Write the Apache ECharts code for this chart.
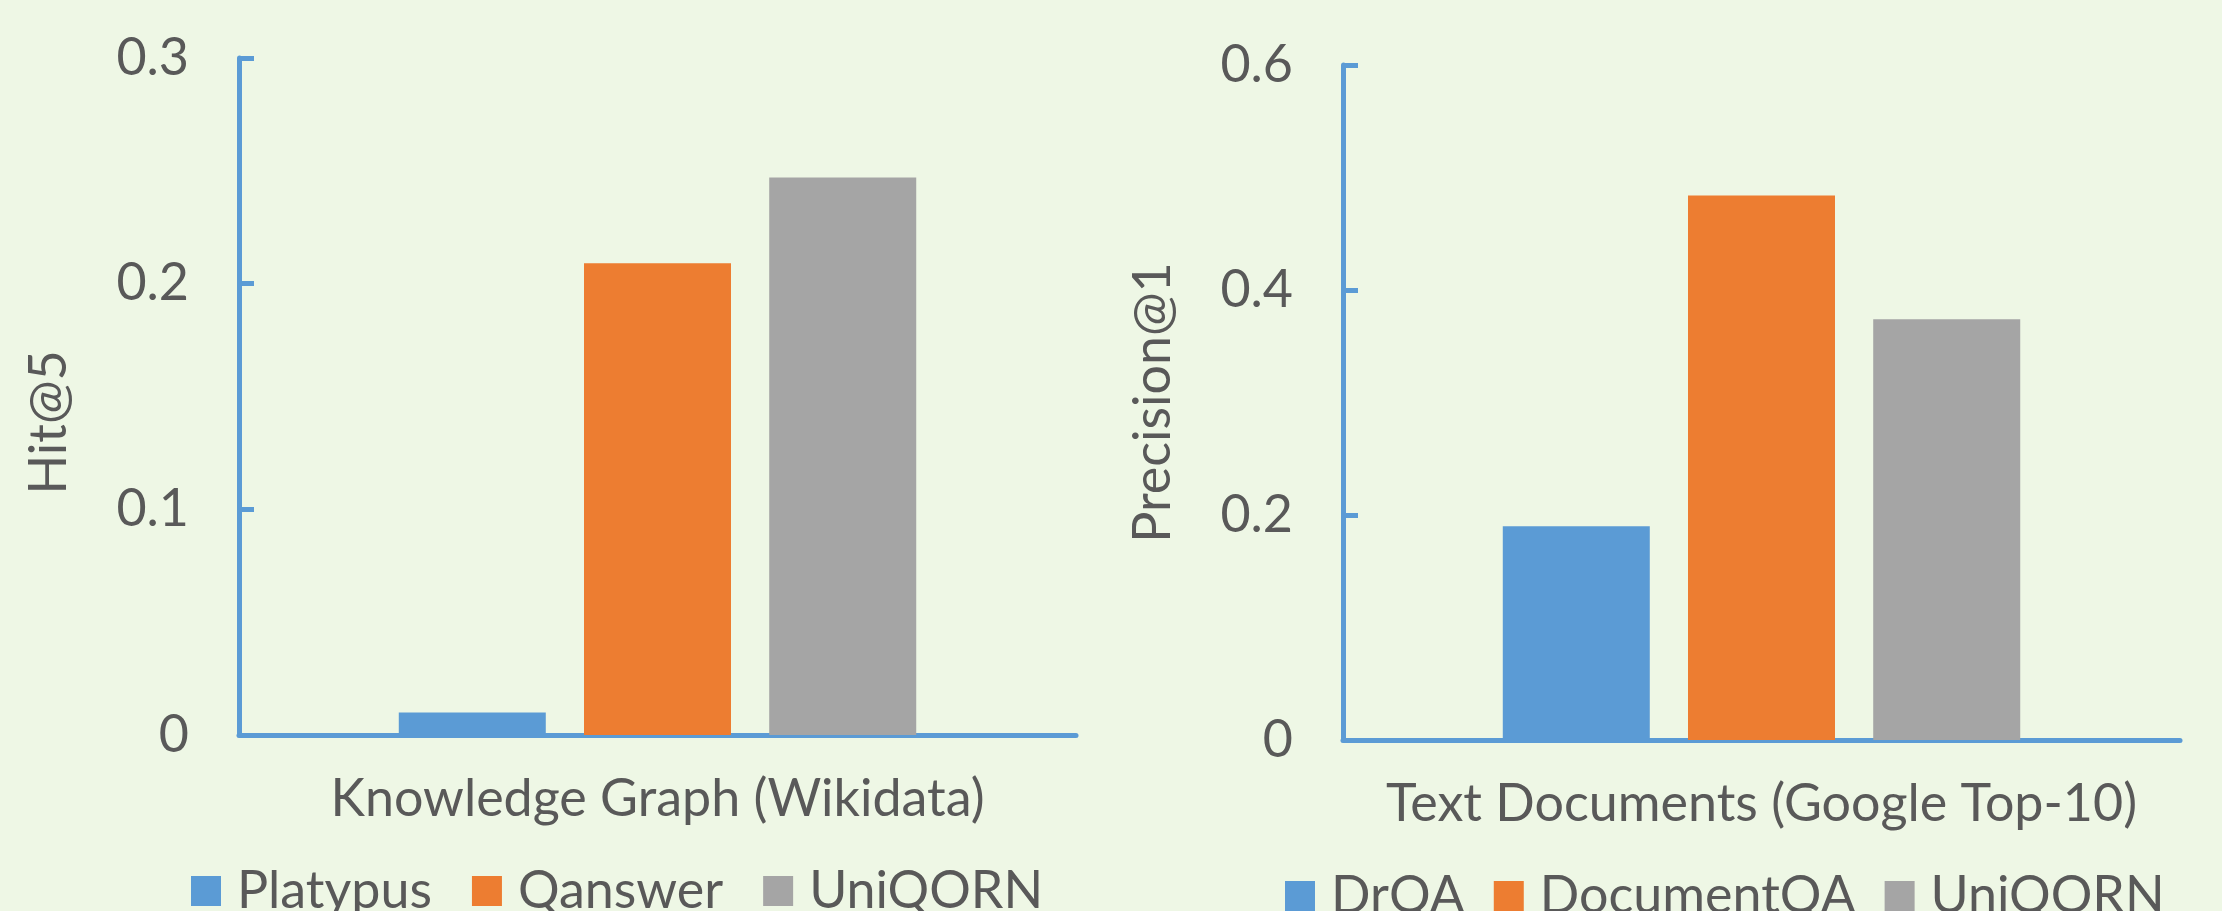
<!DOCTYPE html>
<html>
<head>
<meta charset="utf-8">
<script src="https://cdn.jsdelivr.net/npm/echarts@6/dist/echarts.min.js"></script>
<style>
  html, body { margin: 0; padding: 0; background: #eef7e5; }
  #chart { width: 2222px; height: 911px; }
</style>
</head>
<body>
<div id="chart"></div>
<script>
//数据
var kgCategory = ['Knowledge Graph (Wikidata)'];
var kgNames = ['Platypus', 'Qanswer', 'UniQORN'];
var kgValues = [0.01, 0.209, 0.247];
var kgTicks = [0, 0.3, 0.1];

var textCategory = ['Text Documents (Google Top-10)'];
var textNames = ['DrQA', 'DocumentQA', 'UniQORN'];
var textValues = [0.19, 0.484, 0.374];
var textTicks = [0, 0.6, 0.2];

var colors = ['#5b9bd5', '#ed7d31', '#a5a5a5'];
var font = 'Lato';
var fs = 52;
var textColor = '#595959';
var axisColor = '#5b9bd5';

var chart = echarts.init(document.getElementById('chart'));

//坐标轴
function makeX(idx, cats) {
	return {
		type: 'category', gridIndex: idx, data: cats,
		axisLine: { show: true, lineStyle: { color: axisColor, width: 5 } },
		axisTick: { show: false },
		axisLabel: { color: textColor, fontSize: fs, fontFamily: font, margin: 38 }
	};
}
function makeY(idx, ticks, name, pad) {
	return {
		type: 'value', gridIndex: idx, min: ticks[0], max: ticks[1], interval: ticks[2],
		name: name, nameLocation: 'middle', nameGap: 164, nameRotate: 90,
		nameTextStyle: { color: textColor, fontSize: fs, fontFamily: font, padding: pad },
		axisLine: { show: true, lineStyle: { color: axisColor, width: 5 } },
		axisTick: { show: true, inside: true, length: 15, lineStyle: { color: axisColor, width: 5 } },
		splitLine: { show: false },
		axisLabel: { color: textColor, fontSize: fs, fontFamily: font, margin: 50 }
	};
}
function makeSeries(names, values, idx) {
	return names.map(function (n, i) {
		return {
			name: n, type: 'bar', xAxisIndex: idx, yAxisIndex: idx,
			data: [values[i]], barWidth: 147, barGap: '26%',
			itemStyle: { color: colors[i] }
		};
	});
}
function makeLegend(names, left, top, gap) {
	return {
		data: names, left: left, top: top, itemGap: gap,
		itemWidth: 30, itemHeight: 30, icon: 'rect',
		textStyle: { color: textColor, fontSize: fs, fontFamily: font, padding: [0, 0, 0, 11] }
	};
}

var option = {
	backgroundColor: '#eef7e5',
	animation: false,
	grid: [
		{ left: 239, right: 1146, top: 58, bottom: 176 },
		{ left: 1343, right: 42, top: 65, bottom: 171 }
	],
	legend: [
		makeLegend(kgNames, 186, 860, 40),
		makeLegend(textNames, 1280, 865, 29)
	],
	xAxis: [makeX(0, kgCategory), makeX(1, textCategory)],
	yAxis: [makeY(0, kgTicks, 'Hit@5', [0, 52, 0, 0]), makeY(1, textTicks, 'Precision@1', 0)],
	series: makeSeries(kgNames, kgValues, 0).concat(makeSeries(textNames, textValues, 1))
};

chart.setOption(option);
</script>
</body>
</html>
